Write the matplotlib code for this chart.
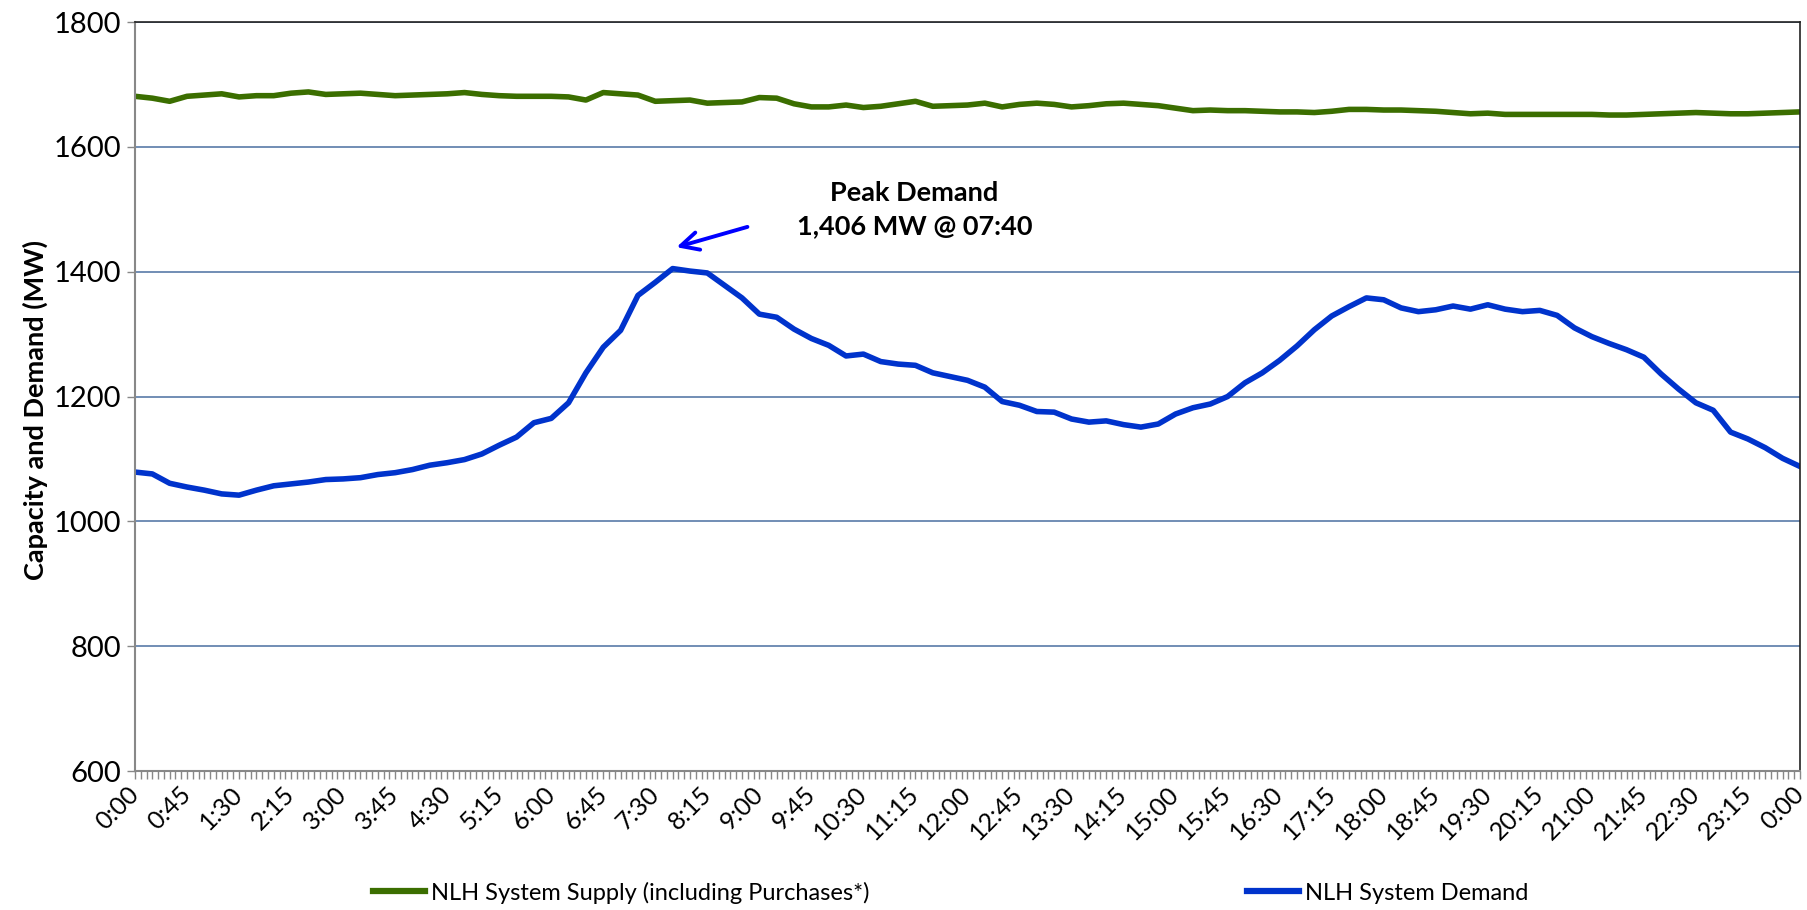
import numpy as np
import matplotlib
matplotlib.use('Agg')
import matplotlib.pyplot as plt
import matplotlib.transforms as mtransforms
from matplotlib.lines import Line2D

plt.rcParams['font.family'] = ['Lato', 'DejaVu Sans']

# 15-minute readings over the day (minutes after midnight)
minutes = np.arange(0, 1441, 15)

supply = [1681, 1678, 1673, 1681, 1683, 1685, 1680, 1682, 1682, 1686,
          1688, 1684, 1685, 1686, 1684, 1682, 1683, 1684, 1685, 1687,
          1684, 1682, 1681, 1681, 1681, 1680, 1675, 1687, 1685, 1683,
          1673, 1674, 1675, 1670, 1671, 1672, 1679, 1678, 1669, 1664,
          1664, 1667, 1663, 1665, 1669, 1673, 1665, 1666, 1667, 1670,
          1664, 1668, 1670, 1668, 1664, 1666, 1669, 1670, 1668, 1666,
          1662, 1658, 1659, 1658, 1658, 1657, 1656, 1656, 1655, 1657,
          1660, 1660, 1659, 1659, 1658, 1657, 1655, 1653, 1654, 1652,
          1652, 1652, 1652, 1652, 1652, 1651, 1651, 1652, 1653, 1654,
          1655, 1654, 1653, 1653, 1654, 1655, 1656]

demand = [1079, 1076, 1061, 1055, 1050, 1044, 1042, 1050, 1057, 1060,
          1063, 1067, 1068, 1070, 1075, 1078, 1083, 1090, 1094, 1099,
          1108, 1122, 1135, 1158, 1165, 1190, 1238, 1279, 1306, 1362,
          1383, 1405, 1401, 1398, 1378, 1358, 1332, 1327, 1308, 1293,
          1282, 1265, 1268, 1256, 1252, 1250, 1238, 1232, 1226, 1215,
          1192, 1186, 1176, 1175, 1164, 1159, 1161, 1155, 1151, 1156,
          1172, 1182, 1188, 1200, 1222, 1238, 1258, 1281, 1307, 1329,
          1344, 1358, 1355, 1342, 1336, 1339, 1345, 1340, 1347, 1340,
          1336, 1338, 1330, 1310, 1296, 1285, 1275, 1263, 1236, 1212,
          1190, 1178, 1143, 1132, 1118, 1101, 1088]

tick_minutes = np.arange(0, 1441, 45)
tick_labels = ['%d:%02d' % ((m // 60) % 24, m % 60) for m in tick_minutes]

green = '#3B6E00'
blue = '#0033CC'

fig = plt.figure(figsize=(18.07, 9.10), dpi=100)
ax = fig.add_axes([0.0747, 0.1527, 0.9214, 0.8231])

ax.plot(minutes, supply, color=green, lw=4, solid_joinstyle='round',
        label='NLH System Supply (including Purchases*)')
ax.plot(minutes, demand, color=blue, lw=4, solid_joinstyle='round',
        label='NLH System Demand')

ax.set_xlim(0, 1440)
ax.set_ylim(600, 1800)
ax.set_yticks(np.arange(600, 1801, 200))
ax.yaxis.grid(True, color='#4A6FA0', lw=1.1)
ax.set_axisbelow(True)

ax.set_xticks(np.arange(0, 1441, 5), minor=True)
ax.set_xticks(tick_minutes)
ax.set_xticklabels(tick_labels, rotation=45, ha='right', va='center',
                   rotation_mode='anchor', fontsize=18)
offset = mtransforms.ScaledTranslation(0.19, -0.1, fig.dpi_scale_trans)
for lbl in ax.get_xticklabels():
    lbl.set_transform(lbl.get_transform() + offset)
ax.tick_params(axis='x', which='both', length=6, width=1, color='#888888', pad=8)
ax.tick_params(axis='y', length=6, width=1, color='#888888', labelsize=21, pad=4)

for side in ['left', 'bottom']:
    ax.spines[side].set_color('#888888')
    ax.spines[side].set_linewidth(1.5)
for side in ['top', 'right']:
    ax.spines[side].set_color('#222222')
    ax.spines[side].set_linewidth(1.2)

ax.set_ylabel('Capacity and Demand (MW)', fontsize=19.5, fontweight='bold')
ax.yaxis.set_label_coords(-0.052, 0.482)

ax.annotate('', xy=(466, 1438), xytext=(532, 1473),
            arrowprops=dict(arrowstyle='->', color='#0000FF', lw=2.8,
                            mutation_scale=32))
ax.text(674, 1499, 'Peak Demand\n1,406 MW @ 07:40', ha='center', va='center',
        fontsize=19.5, fontweight='bold', linespacing=1.45)

handles = [Line2D([], [], color=green, lw=4.5), Line2D([], [], color=blue, lw=4.5)]
fig.legend(handles, ['NLH System Supply (including Purchases*)', 'NLH System Demand'],
           loc='center', bbox_to_anchor=(0.526, 0.019), ncol=2, frameon=False,
           fontsize=17, handlelength=2.2, handletextpad=0.25, columnspacing=16)

fig.savefig('out.png', dpi=100)
